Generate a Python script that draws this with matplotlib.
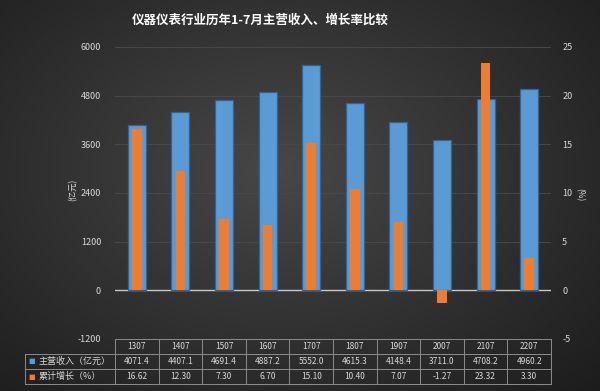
import numpy as np
import matplotlib.pyplot as plt

plt.rcParams['font.family'] = ['Noto Sans CJK SC', 'DejaVu Sans']
plt.rcParams['axes.unicode_minus'] = False

# data
periods = ['1307', '1407', '1507', '1607', '1707', '1807', '1907', '2007', '2107', '2207']
revenue = [4071.4, 4407.1, 4691.4, 4887.2, 5552.0, 4615.3, 4148.4, 3711.0, 4708.2, 4960.2]
growth = [16.62, 12.30, 7.30, 6.70, 15.10, 10.40, 7.07, -1.27, 23.32, 3.30]
left_ticks = [-1200, 0, 1200, 2400, 3600, 4800, 6000]
right_ticks = [-5, 0, 5, 10, 15, 20, 25]

blue = '#5b9bd5'
orange = '#ed7d31'
txt = '#d9d9d9'

fig = plt.figure(figsize=(6, 3.91), dpi=100)

# dark gradient background
bg = fig.add_axes([0, 0, 1, 1], zorder=-10)
yy, xx = np.mgrid[0:391, 0:600]
r = np.sqrt(((xx - 280) / 420.0) ** 2 + ((yy - 170) / 300.0) ** 2)
shade = np.clip(0.28 - 0.16 * r, 0.1, 0.3)
bg.imshow(np.dstack([shade, shade, shade]), aspect='auto', extent=[0, 1, 0, 1])
bg.axis('off')

# main plot area
W, H = 600.0, 391.0
left, right, top, bottom = 115, 551, 47, 339
ax = fig.add_axes([left / W, (H - bottom) / H, (right - left) / W, (bottom - top) / H])
ax.set_facecolor('none')
x = np.arange(len(periods))

ax.bar(x, revenue, width=0.41, color=blue, edgecolor='#35628f', linewidth=0.9, zorder=3)
ax.set_xlim(-0.5, len(periods) - 0.5)
ax.set_ylim(-1200, 6000)
ax.set_yticks(left_ticks)
for t in left_ticks[1:]:
    ax.axhline(t, color='#484848', lw=0.7, zorder=1)
ax.axhline(0, color='#c8c8c8', lw=1.0, zorder=2)
ax.set_xticks([])
ax.tick_params(axis='y', length=0, labelsize=6.5, labelcolor=txt, pad=10)
for s in ax.spines.values():
    s.set_visible(False)

ax2 = ax.twinx()
ax2.bar(x, growth, width=0.22, color=orange, zorder=4)
ax2.set_ylim(-5, 25)
ax2.set_yticks(right_ticks)
ax2.tick_params(axis='y', length=0, labelsize=6.5, labelcolor=txt, pad=8)
for s in ax2.spines.values():
    s.set_visible(False)

fig.text(260 / W, 1 - 20 / H, '仪器仪表行业历年1-7月主营收入、增长率比较',
         ha='center', va='center', color='white', fontsize=9, fontweight='bold')
fig.text(73 / W, 1 - 190 / H, '(亿元)', rotation=90, ha='center', va='center',
         color=txt, fontsize=6)
fig.text(580 / W, 1 - 195 / H, '(%)', rotation=270, ha='center', va='center',
         color=txt, fontsize=6)

# data table under the plot, columns aligned with the bars
tb = fig.add_axes([left / W, (H - 384) / H, (right - left) / W, (384 - 339) / H])
tb.set_xlim(-0.5, len(periods) - 0.5)
tb.set_ylim(0, 3)
tb.axis('off')
line = '#8c8c8c'
label_left = -0.5 - (left - 25) / 43.6
tb.plot([-0.5, len(periods) - 0.5], [3, 3], color=line, lw=0.7, clip_on=False)
for yv in [0, 1, 2]:
    tb.plot([label_left, len(periods) - 0.5], [yv, yv], color=line, lw=0.7, clip_on=False)
for xv in np.arange(-0.5, len(periods)):
    tb.plot([xv, xv], [0, 3], color=line, lw=0.7, clip_on=False)
tb.plot([label_left, label_left], [0, 2], color=line, lw=0.7, clip_on=False)

for i in range(len(periods)):
    tb.text(i, 2.5, periods[i], ha='center', va='center', color=txt, fontsize=6)
    tb.text(i, 1.5, f'{revenue[i]:.1f}', ha='center', va='center', color=txt, fontsize=6)
    tb.text(i, 0.5, f'{growth[i]:.2f}', ha='center', va='center', color=txt, fontsize=6)

tb.text(label_left + 0.07, 1.5, '■', color=blue, ha='left', va='center', fontsize=5,
        family='DejaVu Sans', clip_on=False)
tb.text(label_left + 0.3, 1.5, '主营收入（亿元）', color=txt, ha='left', va='center',
        fontsize=6.5, clip_on=False)
tb.text(label_left + 0.07, 0.5, '■', color=orange, ha='left', va='center', fontsize=5,
        family='DejaVu Sans', clip_on=False)
tb.text(label_left + 0.3, 0.5, '累计增长（%）', color=txt, ha='left', va='center',
        fontsize=6.5, clip_on=False)

fig.savefig('out.png', dpi=100)
